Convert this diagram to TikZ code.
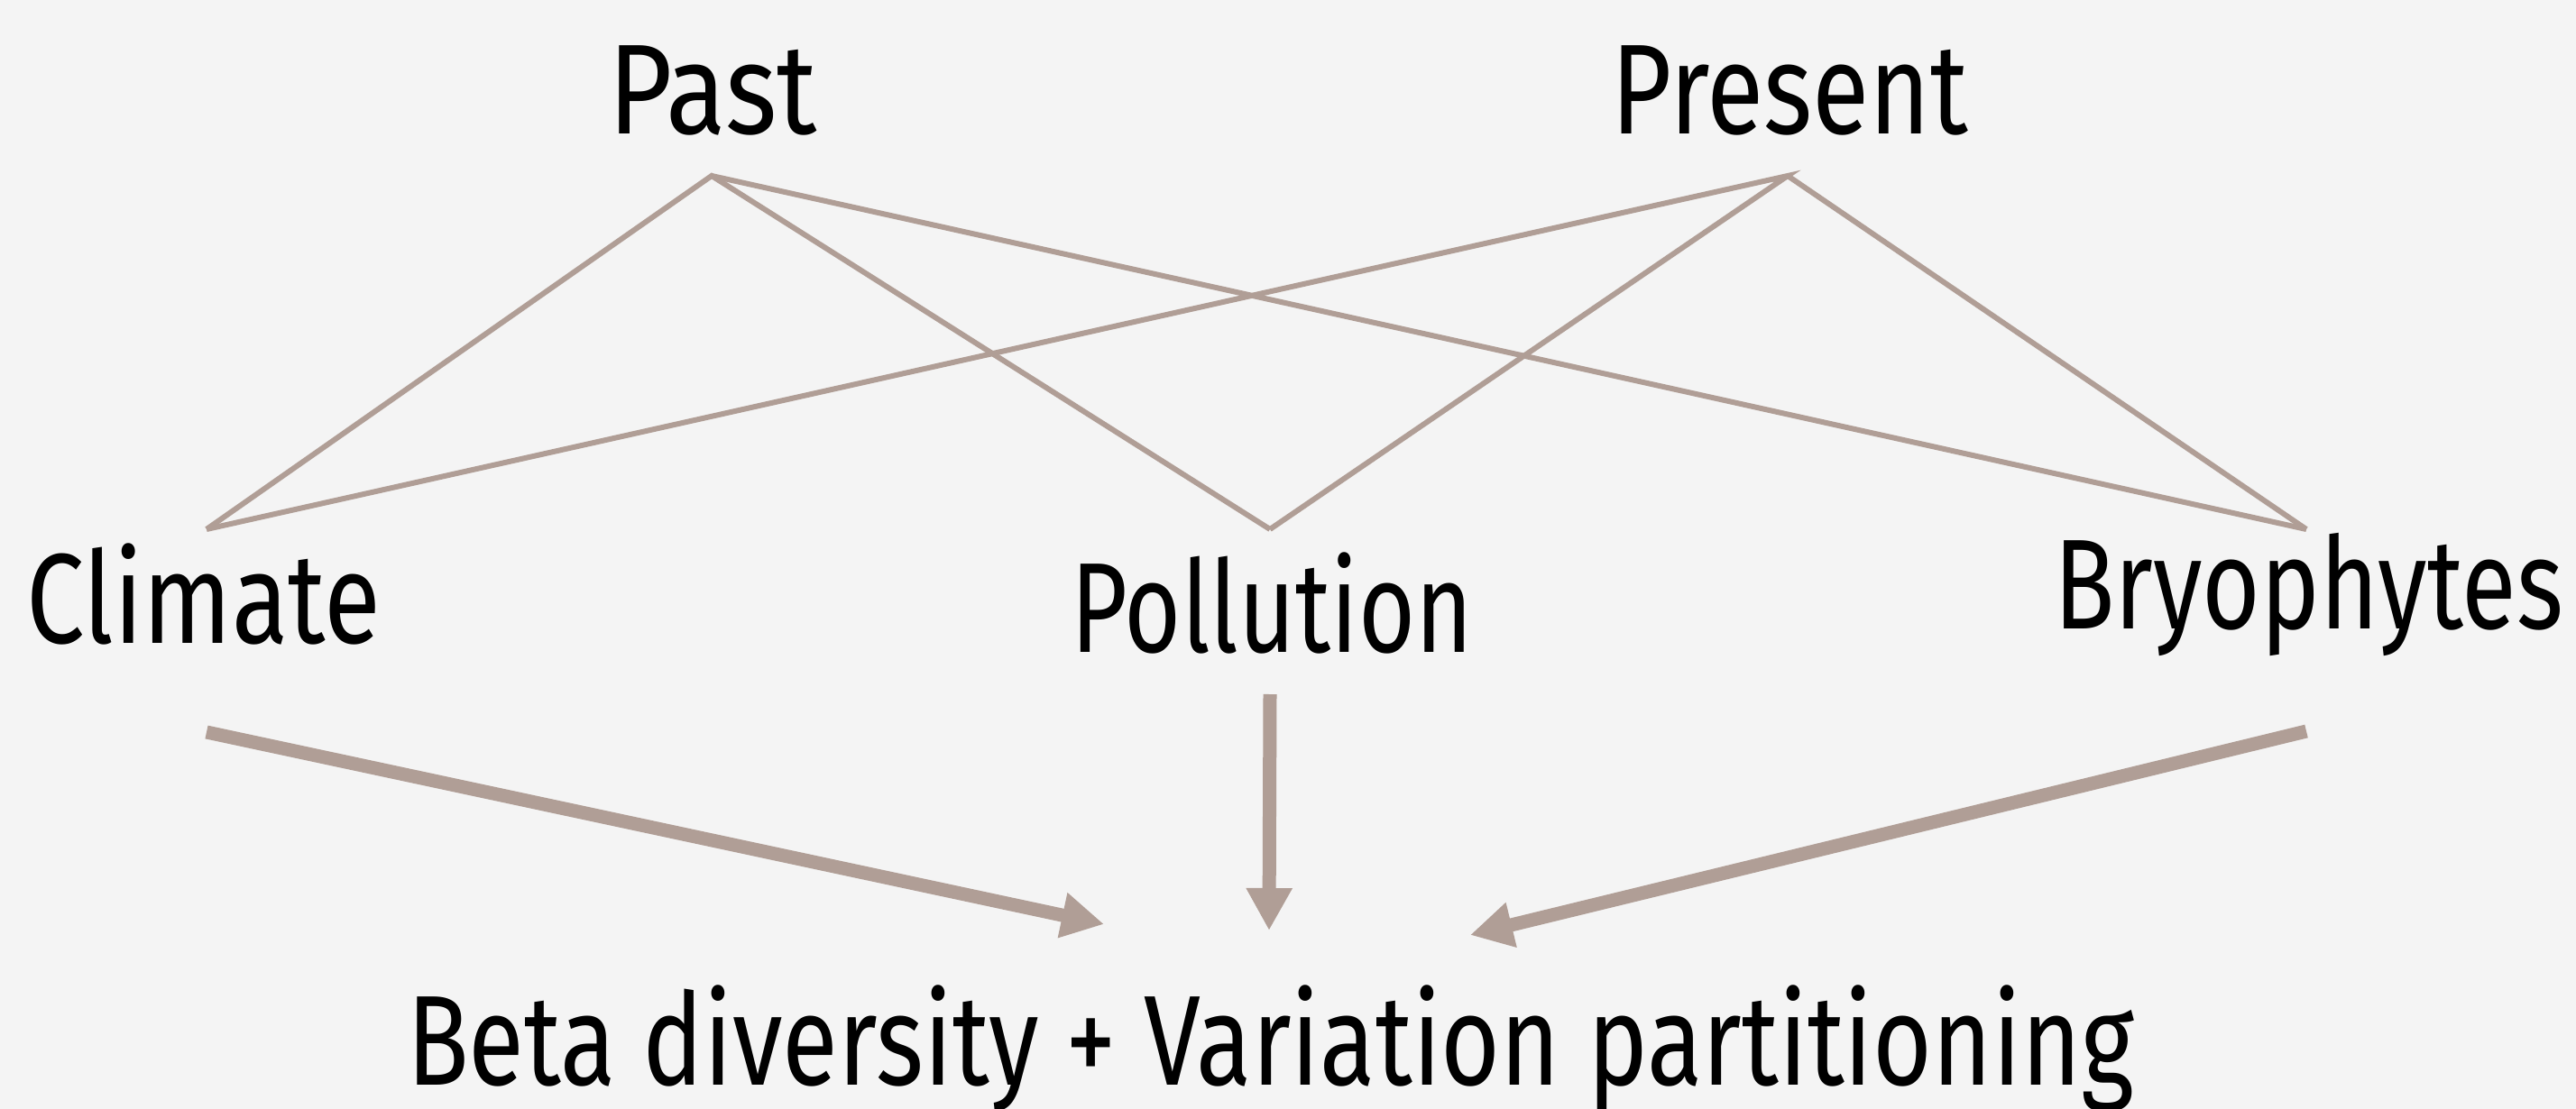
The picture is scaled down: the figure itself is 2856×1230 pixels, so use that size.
\documentclass[tikz,border=0pt]{standalone}
\usepackage{fontspec}
\setmainfont{Fira Sans}
\usetikzlibrary{arrows.meta}
\definecolor{bgc}{RGB}{244,244,244}
\definecolor{taupe}{RGB}{176,158,150}
\newcommand{\lbltext}[2]{\resizebox{#1}{\height}{\fontsize{142pt}{150pt}\selectfont #2}}
\tikzset{
  lbl/.style={anchor=base west, inner sep=0pt, outer sep=0pt, text=black},
  thinline/.style={draw=taupe, line width=6pt, line cap=butt, line join=miter},
  bigarrow/.style={draw=taupe, line width=15pt, -{Triangle[length=47pt, width=48pt]}},
}
\begin{document}
\begin{tikzpicture}[x=1pt, y=-1pt]
\useasboundingbox (0,0) rectangle (2856,1230);
\fill[bgc] (0,0) rectangle (2856,1230);

% text nodes
\node[lbl] (past) at (674,149) {\lbltext{232pt}{Past}};
\node[lbl] (present) at (1786,149) {\lbltext{396pt}{Present}};
\node[lbl] (climate) at (29,713) {\lbltext{393pt}{Climate}};
\node[lbl] (pollution) at (1187,723) {\lbltext{446pt}{Pollution}};
\node[lbl] (bryo) at (2277,697) {\lbltext{565pt}{Bryophytes}};
\node[lbl] (beta) at (451,1203) {\lbltext{1915pt}{Beta diversity + Variation partitioning}};

% connector points
\coordinate (pastpt) at (789,195);
\coordinate (prespt) at (1982,195);
\coordinate (climpt) at (229,587);
\coordinate (pollpt) at (1408,587);
\coordinate (brypt) at (2557,587);

\coordinate (climstart) at (229,812);
\coordinate (climtip) at (1224,1025);
\coordinate (pollstart) at (1408,770);
\coordinate (polltip) at (1407,1032);
\coordinate (brystart) at (2557,811);
\coordinate (brytip) at (1630,1037);

% thin lines
\draw[thinline] (climpt) -- (pastpt) -- (pollpt);
\draw[thinline] (pastpt) -- (brypt);
\draw[thinline] (climpt) -- (prespt) -- (pollpt);
\draw[thinline] (prespt) -- (brypt);

% arrows
\draw[bigarrow] (climstart) -- (climtip);
\draw[bigarrow] (pollstart) -- (polltip);
\draw[bigarrow] (brystart) -- (brytip);
\end{tikzpicture}
\end{document}
